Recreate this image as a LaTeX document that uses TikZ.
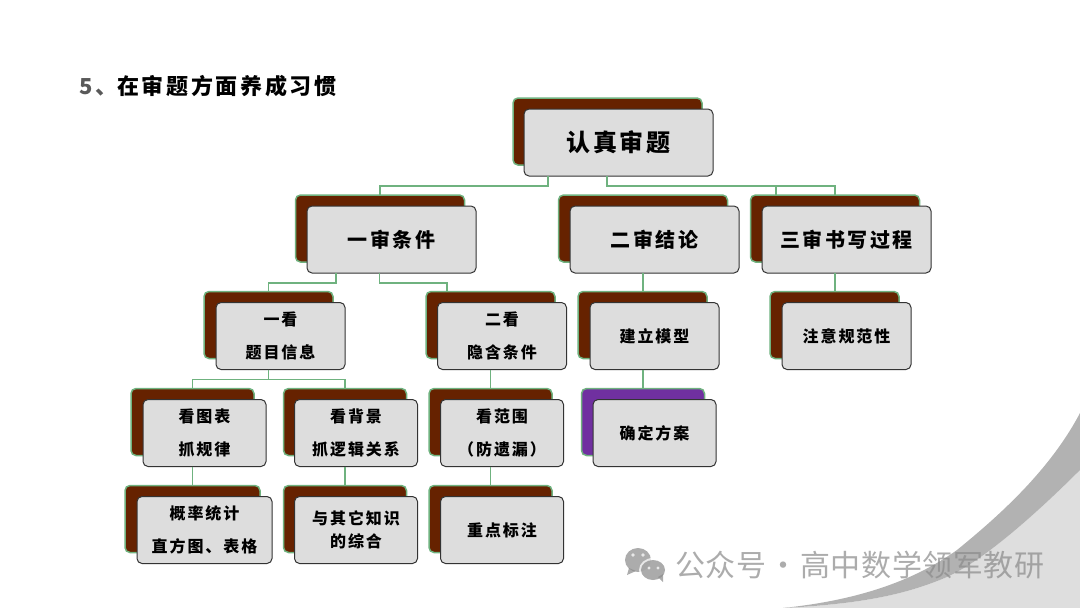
\documentclass[tikz,border=0pt]{standalone}
\usepackage{fontspec}
\usetikzlibrary{positioning}
\newfontfamily\cjk[LetterSpace=12]{Noto Sans CJK SC}
\newfontfamily\wmfont[LetterSpace=2]{Noto Sans CJK SC}
\definecolor{shadowbrown}{HTML}{662200}
\definecolor{shadowpurple}{HTML}{7030A0}
\definecolor{glowgreen}{HTML}{6FB27F}
\definecolor{boxgray}{HTML}{DDDDDD}
\definecolor{swooshdark}{HTML}{B2B2B2}
\definecolor{swooshlight}{HTML}{DEDEDE}
\definecolor{wmgray}{HTML}{8C8C8C}
\begin{document}
\begin{tikzpicture}[x=1pt,y=-1pt,
    back node/.style={rectangle,rounded corners=5pt,draw=glowgreen,line width=1.5pt,fill=shadowbrown,inner sep=0pt,outer sep=0pt},
    front node/.style={rectangle,rounded corners=5pt,draw=black!80,line width=1pt,fill=boxgray,inner sep=0pt,outer sep=0pt,align=center,text=black},
    big text/.style={font=\cjk\bfseries\fontsize{24}{30}\selectfont},
    mid text/.style={font=\cjk\bfseries\fontsize{20}{30}\selectfont},
    small text/.style={font=\cjk\bfseries\fontsize{16}{32.5}\selectfont},
    link/.style={draw=glowgreen,line width=1.2pt},
    wide/.style={minimum width=189pt,minimum height=67pt},
    level one/.style={minimum width=169pt,minimum height=67pt},
    level two/.style={minimum width=129pt,minimum height=67pt},
    level three/.style={minimum width=123pt,minimum height=67pt}]
   \useasboundingbox (0,0) rectangle (1080,608);
   % swoosh in the corner
   \fill[swooshlight] (783,608) .. controls (860,604) and (905,595) .. (947,577) .. controls (985,560) and (1040,510) .. (1080,470) -- (1080,608) -- cycle;
   \fill[swooshdark] (783,608) .. controls (860,600) and (915,580) .. (957,550) .. controls (1000,515) and (1050,470) .. (1080,413) -- (1080,470) .. controls (1040,510) and (985,560) .. (947,577) .. controls (905,595) and (860,604) .. (783,608) -- cycle;
   % heading
   \node[anchor=west,inner sep=0pt,font=\cjk\bfseries\fontsize{22}{26}\selectfont] (heading) at (79,86) {\textcolor{black!65}{5、}在审题方面养成习惯};
   % shadow boxes
   \node[back node,wide] (rootb) at (607.5,131.5) {};
   \node[back node,level one] (condb) at (380,228.5) {};
   \node[back node,level one] (conclb) at (643,228.5) {};
   \node[back node,level one] (writeb) at (835,228.5) {};
   \node[back node,level two] (lookb) at (268.5,325) {};
   \node[back node,level two] (hintb) at (490.5,325) {};
   \node[back node,level two] (modelb) at (642.5,325) {};
   \node[back node,level two] (normb) at (834.5,325) {};
   \node[back node,level three] (chartb) at (192.5,422) {};
   \node[back node,level three] (bgb) at (345,422) {};
   \node[back node,level three] (rangeb) at (490.5,422) {};
   \node[back node,level three,fill=shadowpurple] (planb) at (643,422) {};
   \node[back node,level three,minimum width=135pt] (statb) at (192.5,519) {};
   \node[back node,level three] (mixb) at (345,519) {};
   \node[back node,level three] (markb) at (490.5,519) {};
   % front boxes
   \node[front node,wide,big text] (root) at (618.5,142.5) {认真审题};
   \node[front node,level one,mid text] (cond) at (391.5,239.5) {一审条件};
   \node[front node,level one,mid text] (concl) at (654.5,239.5) {二审结论};
   \node[front node,level one,mid text] (write) at (846.5,239.5) {三审书写过程};
   \node[front node,level two,small text] (look) at (280.5,336) {一看\\题目信息};
   \node[front node,level two,small text] (hint) at (502,336) {二看\\隐含条件};
   \node[front node,level two,small text] (model) at (654.5,336) {建立模型};
   \node[front node,level two,small text] (norm) at (846.5,336) {注意规范性};
   \node[front node,level three,small text] (chart) at (204.5,433) {看图表\\抓规律};
   \node[front node,level three,small text] (bg) at (356,433) {看背景\\抓逻辑关系};
   \node[front node,level three,small text] (range) at (502,433) {看范围\\（防遗漏）};
   \node[front node,level three,small text] (plan) at (654.5,433) {确定方案};
   \node[front node,level three,small text,minimum width=135pt] (stat) at (204.5,530) {概率统计\\直方图、表格};
   \node[front node,level three,small text] (mix) at (356,530) {与其它知识\\[-9pt]的综合};
   \node[front node,level three,small text] (mark) at (502,530) {重点标注};
   % connectors
   \path[link] ([xshift=-70.5pt]root.south) -- ++(0,10) -| (condb.north);
   \path[link,line width=1.8pt] ([xshift=-11.5pt]root.south) -- ++(0,10) -- ++(169,0);
   \path[link] ([xshift=-11.5pt]root.south) -- ++(0,10) -| ([xshift=-59pt]writeb.north);
   \path[link] ([xshift=-11.5pt]root.south) -- ++(0,10) -| (writeb.north);
   \path[link] ([xshift=-55.5pt]cond.south) -- ++(0,10) -| (lookb.north);
   \path[link] ([xshift=-12pt]cond.south) -- ++(0,10) -| ([xshift=-43.5pt]hintb.north);
   \path[link] (concl.south -| conclb.north) -- (conclb.south |- modelb.north);
   \path[link] (write.south -| writeb.north) -- (writeb.south |- normb.north);
   \path[link] ([xshift=-12pt]look.south) -- ++(0,10) -| (chartb.north);
   \path[link] ([xshift=-12pt]look.south) -- ++(0,10) -| (bgb.north);
   \path[link] (hint.south -| rangeb.north) -- (rangeb.north);
   \path[link] (model.south -| planb.north) -- (planb.north);
   \path[link] (chart.south -| statb.north) -- (statb.north);
   \path[link] (bg.south -| mixb.north) -- (mixb.north);
   \path[link] (range.south -| markb.north) -- (markb.north);
   % watermark
   \begin{scope}[opacity=0.72]
     \fill[wmgray] (638,560) ellipse (13 and 12);
     \fill[wmgray] (629,568) -- (627,575) -- (636,571) -- cycle;
     \fill[white] (653,570) ellipse (14 and 12);
     \fill[wmgray] (653,570) ellipse (12 and 10);
     \fill[wmgray] (658,577) -- (663,582) -- (663,574) -- cycle;
     \fill[white] (633,555) circle (1.8) (643,555) circle (1.8) (649,568) circle (1.6) (658,568) circle (1.6);
     \node[anchor=west,inner sep=0pt,text=wmgray,font=\wmfont\fontsize{30}{34}\selectfont] (wm) at (675,565) {公众号\hspace{2pt}·\hspace{2pt}高中数学领军教研};
   \end{scope}
\end{tikzpicture}
\end{document}
